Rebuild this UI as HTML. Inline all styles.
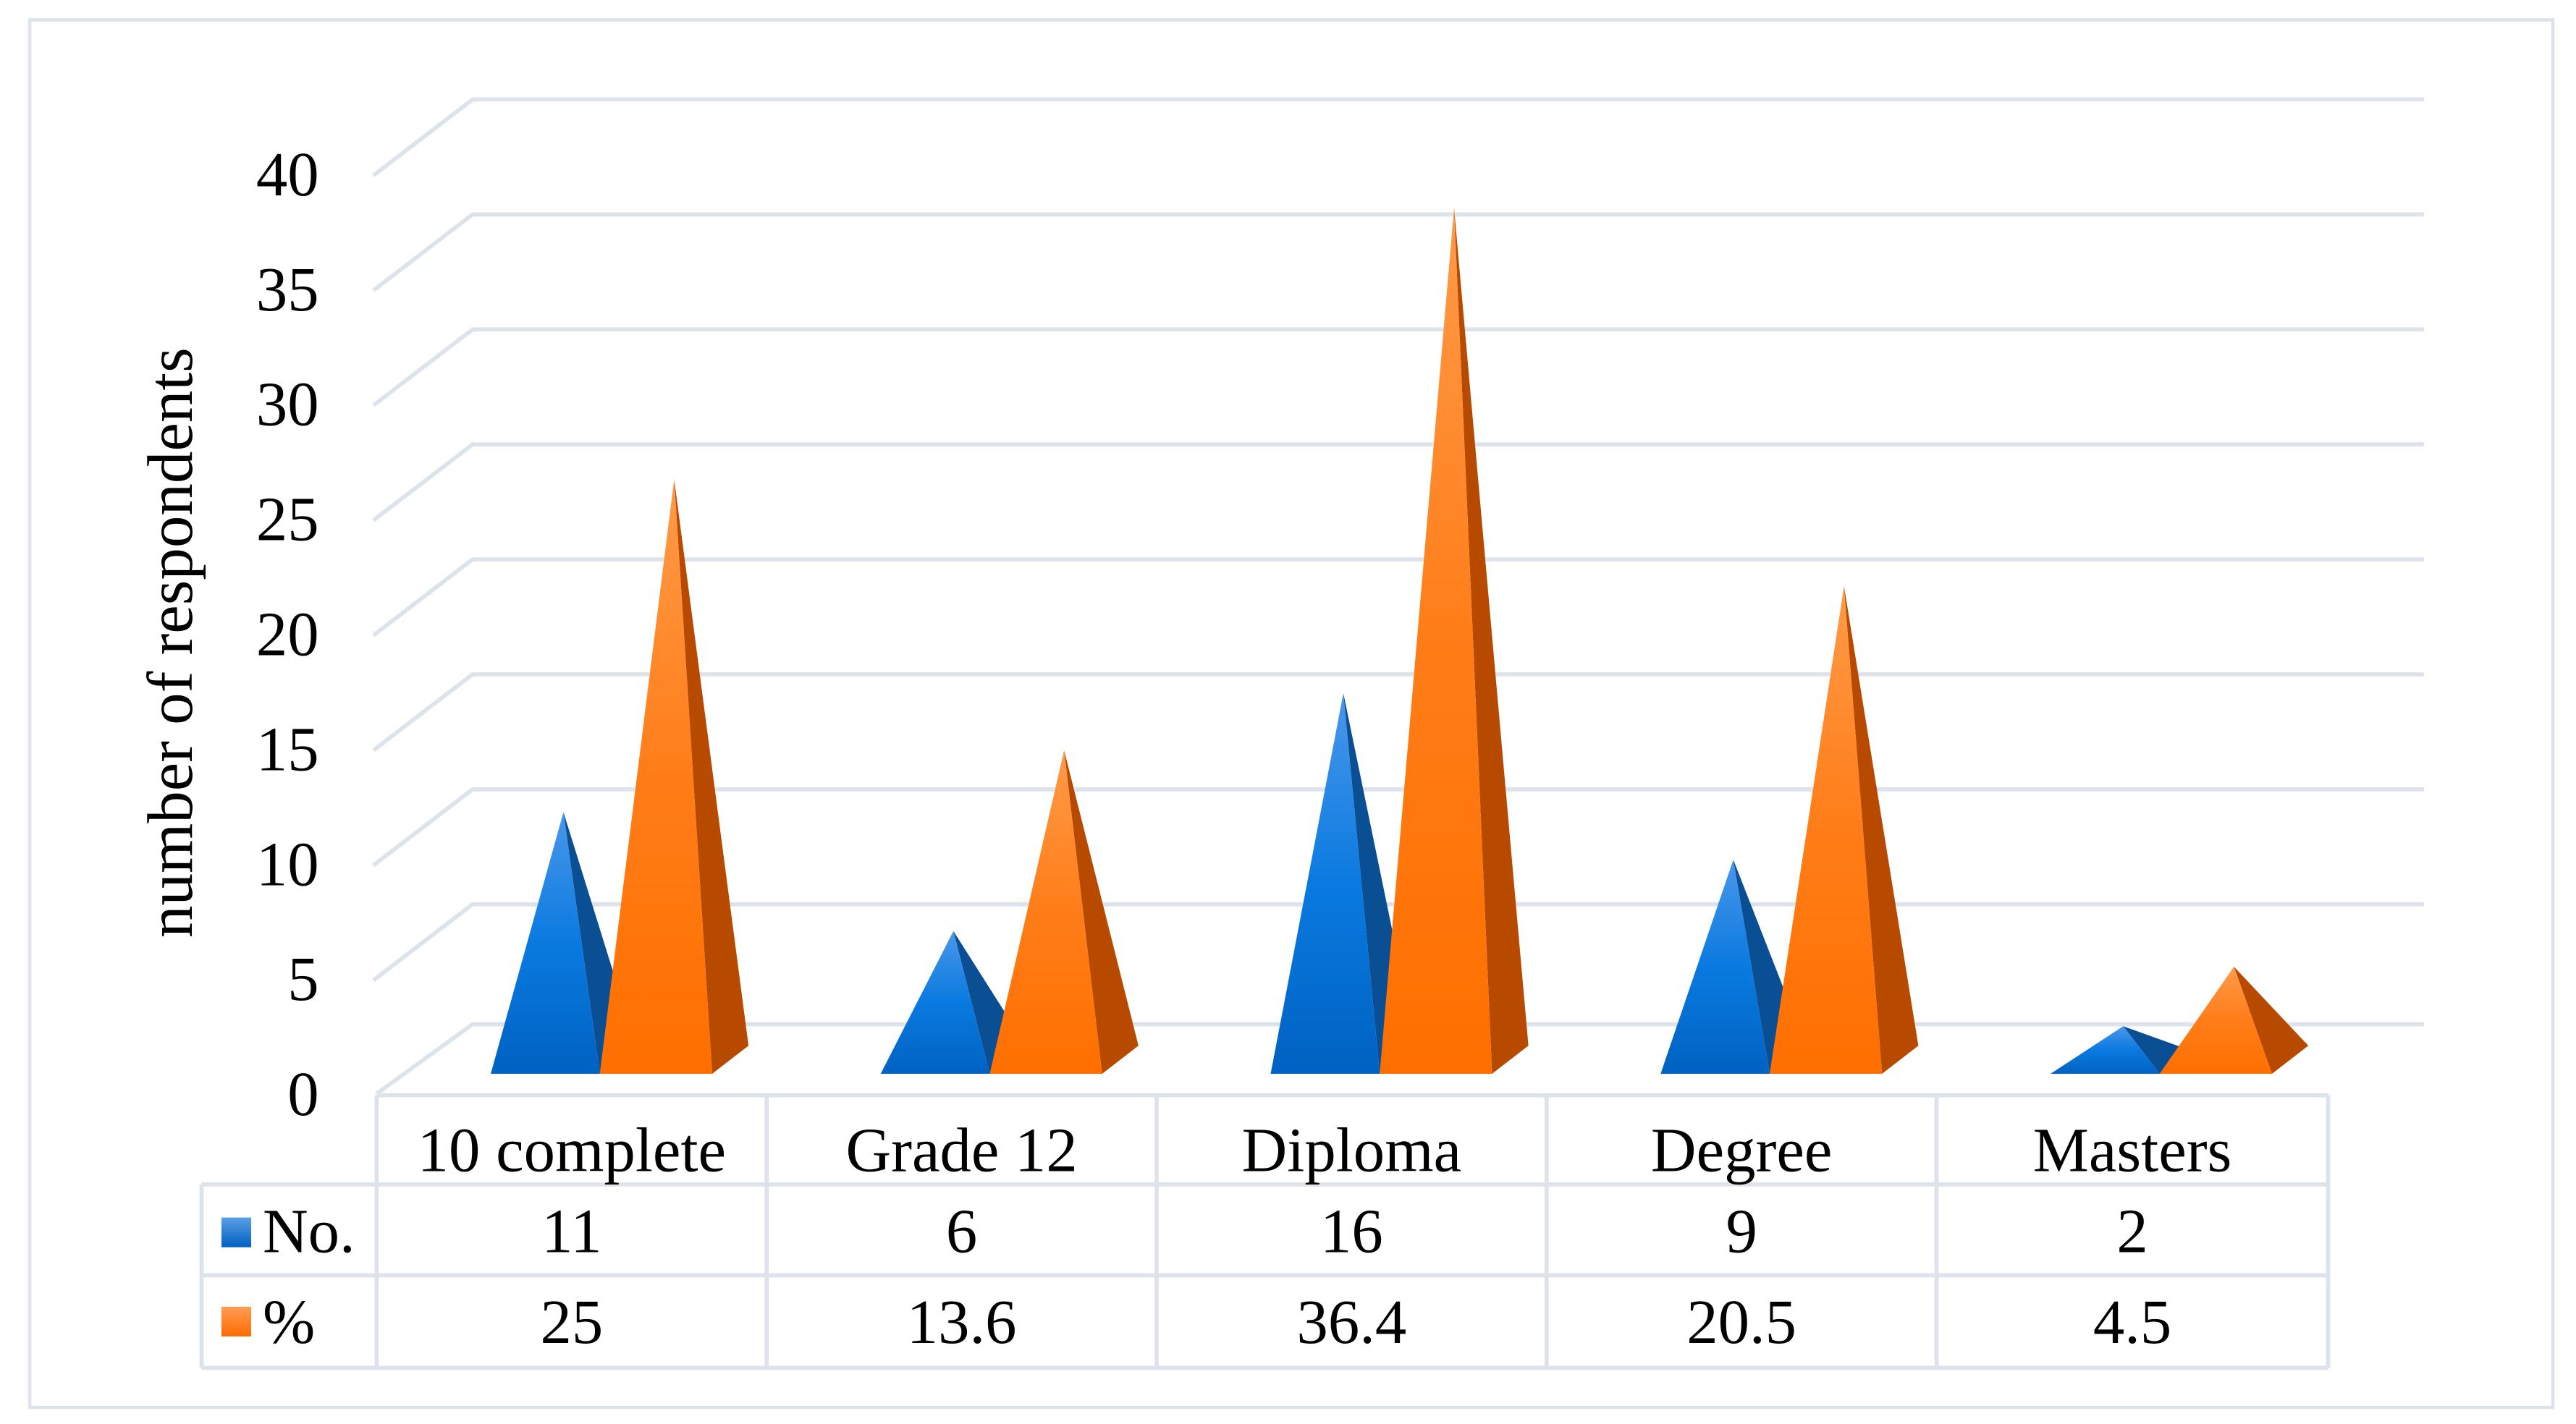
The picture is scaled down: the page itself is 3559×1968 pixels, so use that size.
<!DOCTYPE html>
<html><head><meta charset="utf-8"><style>
html,body{margin:0;padding:0;background:#fff}
svg{display:block}
text{font-family:"Liberation Serif",serif;fill:#000}
</style></head><body>
<svg id="chart" width="3559" height="1968" viewBox="0 0 1559 862" preserveAspectRatio="none" xmlns="http://www.w3.org/2000/svg">
<defs>
<linearGradient id="gb" x1="0" y1="0" x2="0" y2="1"><stop offset="0" stop-color="#4a97ea"/><stop offset="0.5" stop-color="#0a7ae0"/><stop offset="1" stop-color="#0062c2"/></linearGradient>
<linearGradient id="go" x1="0" y1="0" x2="0" y2="1"><stop offset="0" stop-color="#ff9a48"/><stop offset="0.5" stop-color="#ff7d18"/><stop offset="1" stop-color="#ff6f00"/></linearGradient>
<linearGradient id="lb" x1="0" y1="0" x2="0" y2="1"><stop offset="0" stop-color="#5a9fe6"/><stop offset="1" stop-color="#0060c0"/></linearGradient>
<linearGradient id="lo" x1="0" y1="0" x2="0" y2="1"><stop offset="0" stop-color="#ff9c55"/><stop offset="1" stop-color="#ff6a00"/></linearGradient>
</defs>
<rect x="18" y="12" width="1527" height="840" fill="none" stroke="#dde3ea" stroke-width="2"/>
<g id="grid"></g>
<g id="yticks"></g>
<text transform="translate(116,389) rotate(-90)" text-anchor="middle" font-size="39">number of respondents</text>
<g id="bars"></g>
<g id="table"></g>
</svg>
<script>
const categories = ["10 complete","Grade 12","Diploma","Degree","Masters"];
const seriesNo = [11,6,16,9,2];
const seriesPct = [25,13.6,36.4,20.5,4.5];
const noLabels = ["11","6","16","9","2"];
const pctLabels = ["25","13.6","36.4","20.5","4.5"];
const yTicks = [0,5,10,15,20,25,30,35,40];

const NS="http://www.w3.org/2000/svg";
function mk(tag,attrs,parent){const e=document.createElementNS(NS,tag);for(const k in attrs)e.setAttribute(k,attrs[k]);parent.appendChild(e);return e;}
const backY = v => 617 - v*13.92;
const frontY = v => 660 - v*13.92;
const tipY = v => 650 - v*14.4;
const catX = i => 346 + i*236;
const FS = 38;

const grid=document.getElementById('grid'), yt=document.getElementById('yticks');
yTicks.forEach(v=>{
  if(v>0){
    const p=mk('polyline',{points:`226,${frontY(v)+3} 286,${backY(v)} 1467,${backY(v)}`,fill:'none',stroke:'#dde3ea','stroke-width':2.5},grid);
    
    
  }
  const t=mk('text',{x:193,y:frontY(v)+15,'text-anchor':'end','font-size':FS},yt);
  t.textContent=v;
  
  
});
const floor=mk('polyline',{points:`228,662 286,620 1467,620`,fill:'none',stroke:'#dde3ea','stroke-width':2.5},grid);



const bars=document.getElementById('bars');
function pyramid(cx,v,l,r,tipOff,front,side,name){
  const ty=tipY(v), tx=cx+tipOff, base=650;
  const h=base-ty, sideY=base-Math.min(17,h*0.45);
  const s=mk('polygon',{points:`${cx+r},${base} ${cx+r+22},${sideY} ${tx},${ty}`,fill:side},bars);
  
  
  const f=mk('polygon',{points:`${cx+l},${base} ${cx+r},${base} ${tx},${ty}`,fill:front},bars);
  
  
}
categories.forEach((c,i)=>{
  const cx=catX(i);
  pyramid(cx,seriesNo[i],-49,17,-5,'url(#gb)','#0a4f94','pyramid-no-'+i);
  pyramid(cx,seriesPct[i],17,85,62,'url(#go)','#b84a00','pyramid-pct-'+i);
});

const tb=document.getElementById('table');
const lc='#dde3ea', lw=2.5;
function ln(x1,y1,x2,y2,name){const l=mk('line',{x1,y1,x2,y2,stroke:lc,'stroke-width':lw},tb);}
const colX=[228,464,700,936,1172,1409];
ln(122,717,1409,717,'table-row-line-1');
ln(122,772,1409,772,'table-row-line-2');
ln(122,828,1409,828,'table-row-line-3');
ln(228,663,1409,663,'table-top-line');
ln(122,717,122,828,'table-left-line');
colX.forEach((x,i)=>ln(x,663,x,828,'table-col-line-'+i));
categories.forEach((c,i)=>{
  const cx=(colX[i]+colX[i+1])/2;
  const t=mk('text',{x:cx,y:709,'text-anchor':'middle','font-size':FS},tb);t.textContent=c;
  
  
  const a=mk('text',{x:cx,y:758,'text-anchor':'middle','font-size':FS},tb);a.textContent=noLabels[i];
  
  
  const b=mk('text',{x:cx,y:813,'text-anchor':'middle','font-size':FS},tb);b.textContent=pctLabels[i];
  
  
});
const k1=mk('rect',{x:134,y:737,width:18,height:18,fill:'url(#lb)'},tb);


const k2=mk('rect',{x:134,y:791,width:18,height:18,fill:'url(#lo)'},tb);


const t1=mk('text',{x:159,y:758,'font-size':FS},tb);t1.textContent='No.';


const t2=mk('text',{x:159,y:813,'font-size':FS},tb);t2.textContent='%';


</script>
</body></html>
